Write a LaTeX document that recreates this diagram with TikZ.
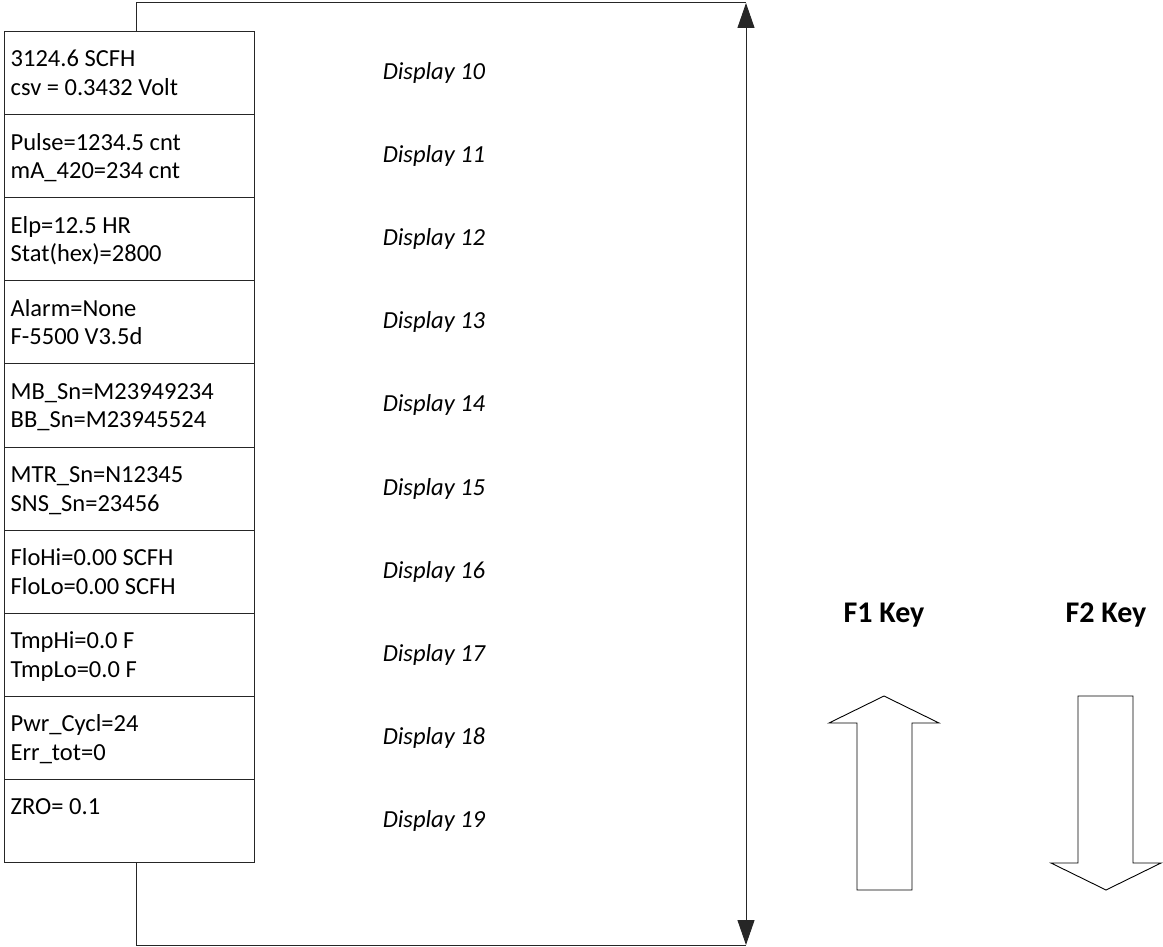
\documentclass[tikz,border=0pt]{standalone}
\usepackage{fontspec}
\setmainfont{Carlito}
\usetikzlibrary{arrows.meta,calc}
\begin{document}
\begin{tikzpicture}[x=1pt,y=-1pt,
  rowbox/.style={draw=black!85,line width=1pt,minimum width=250pt,minimum height=83.1pt,inner sep=0pt,anchor=north west},
  rowtext/.style={anchor=base west,align=left,inner sep=0pt,font=\fontsize{24.5}{28.5}\selectfont},
  disptext/.style={font=\fontsize{24.5}{28}\selectfont\itshape,inner sep=0pt},
  keytext/.style={font=\fontsize{30}{34}\selectfont\bfseries,inner sep=0pt},
  conn/.style={draw=black!85,line width=1pt},
  bigarrow/.style={draw=black,line width=0.9pt,fill=white,line join=miter}]
\useasboundingbox (0,0) rectangle (1163,947);
% rows
\foreach \i [count=\k from 0] in {10,...,19}
  \node[rowbox] (r\i) at (4,{31+83.1*\k}) {};
% row texts (anchored at the baseline of the last line)
\node[rowtext] (t10) at ($(r10.north west)+(6.5,64.5)$) {3124.6 SCFH\\csv = 0.3432 Volt};
\node[rowtext] (t11) at ($(r11.north west)+(6.5,64.5)$) {Pulse=1234.5 cnt\\mA\_420=234 cnt};
\node[rowtext] (t12) at ($(r12.north west)+(6.5,64.5)$) {Elp=12.5 HR\\Stat(hex)=2800};
\node[rowtext] (t13) at ($(r13.north west)+(6.5,64.5)$) {Alarm=None\\F-5500 V3.5d};
\node[rowtext] (t14) at ($(r14.north west)+(6.5,64.5)$) {MB\_Sn=M23949234\\BB\_Sn=M23945524};
\node[rowtext] (t15) at ($(r15.north west)+(6.5,64.5)$) {MTR\_Sn=N12345\\SNS\_Sn=23456};
\node[rowtext] (t16) at ($(r16.north west)+(6.5,64.5)$) {FloHi=0.00 SCFH\\FloLo=0.00 SCFH};
\node[rowtext] (t17) at ($(r17.north west)+(6.5,64.5)$) {TmpHi=0.0 F\\TmpLo=0.0 F};
\node[rowtext] (t18) at ($(r18.north west)+(6.5,64.5)$) {Pwr\_Cycl=24\\Err\_tot=0};
\node[rowtext] (t19) at ($(r19.north west)+(6.5,36)$) {ZRO= 0.1};
% display labels
\foreach \i in {10,...,19}
  \node[disptext] (d\i) at (r\i.center -| 434,0) {Display \i};
% connectors
\coordinate (tr) at (746,3);
\coordinate (br) at (746,945);
\draw[conn] ($(r10.north west)+(132,0)$) |- (tr);
\draw[conn,{Triangle[length=25pt,width=17pt]}-{Triangle[length=25pt,width=17pt]}] (tr) -- (br);
\draw[conn] ($(r19.south west)+(132,0)$) |- (br);
% keys
\node[keytext] (f1) at (884,615) {F1 Key};
\node[keytext] (f2) at (1106,615) {F2 Key};
\draw[bigarrow] (884,696) -- (939,723) -- (912,723) -- (912,890) -- (857,890) -- (857,723) -- (829,723) -- cycle;
\draw[bigarrow] (1078,696) -- (1133,696) -- (1133,863) -- (1161,863) -- (1106,890) -- (1051,863) -- (1078,863) -- cycle;
\end{tikzpicture}
\end{document}
